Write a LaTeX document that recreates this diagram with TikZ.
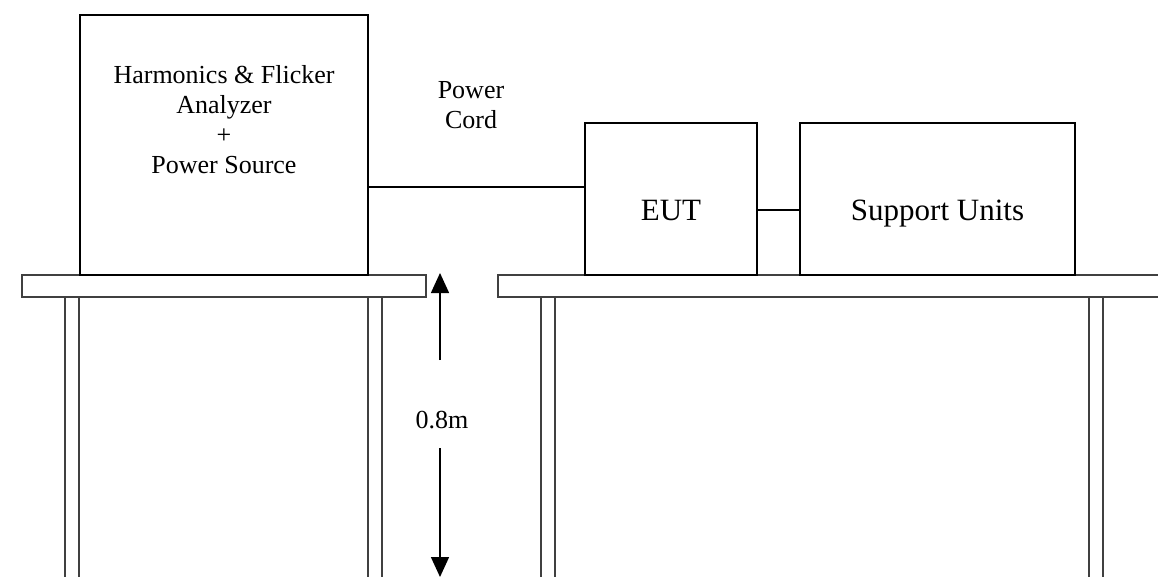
\documentclass[tikz,border=0pt]{standalone}
\usepackage{fontspec}
\setmainfont{Liberation Serif}
\usetikzlibrary{arrows.meta, positioning, calc}

\begin{document}
\begin{tikzpicture}[
    x=1pt, y=-1pt,
    box/.style={draw, line width=1.5pt, inner sep=0pt},
    wire/.style={line width=1.5pt},
    plank/.style={draw=black!75, line width=1.5pt},
    dimarrow/.style={-{Triangle[length=20pt,width=18pt]}, line width=1.5pt},
    lbl/.style={font=\fontsize{26}{30}\selectfont, align=center},
    big/.style={font=\fontsize{31}{36}\selectfont, text height=21pt, text depth=0pt}
]
    \useasboundingbox (0,0) rectangle (1158,576);

    % left table
    \draw[plank] (22,275) rectangle (426,297);
    \draw[plank] (65,297) rectangle (79,600);
    \draw[plank] (368,297) rectangle (382,600);

    % right table
    \draw[plank] (498,275) rectangle (1175,297);
    \draw[plank] (541,297) rectangle (555,600);
    \draw[plank] (1089,297) rectangle (1103,600);

    % equipment
    \node[box, minimum width=288pt, minimum height=260pt] (analyzer) at (224,145) {};
    \node[lbl] (analyzertext) at (224,120) {Harmonics \& Flicker\\Analyzer\\+\\Power Source};
    \node[box, minimum width=172pt, minimum height=152pt,
          label={[big, yshift=-11pt]center:EUT}] (eut) at (671,199) {};
    \node[box, minimum width=275pt, minimum height=152pt,
          label={[big, yshift=-11pt]center:Support Units}] (support) at (937.5,199) {};

    \node[lbl] (cordlbl) at (471,105) {Power\\Cord};

    \coordinate (cordy) at (0,187);
    \coordinate (linky) at (0,210);
    \draw[wire] (analyzer.east |- cordy) -- (eut.west |- cordy);
    \draw[wire] (eut.east |- linky) -- (support.west |- linky);

    % table height
    \node[lbl, inner sep=0pt] (height) at (442,420) {0.8m};
    \coordinate (tabletop) at (440,273);
    \coordinate (floor) at (440,577);
    \draw[dimarrow] ($(height.center -| tabletop)+(0,-60)$) -- (tabletop);
    \draw[dimarrow] ($(height.center -| floor)+(0,28)$) -- (floor);
\end{tikzpicture}
\end{document}
